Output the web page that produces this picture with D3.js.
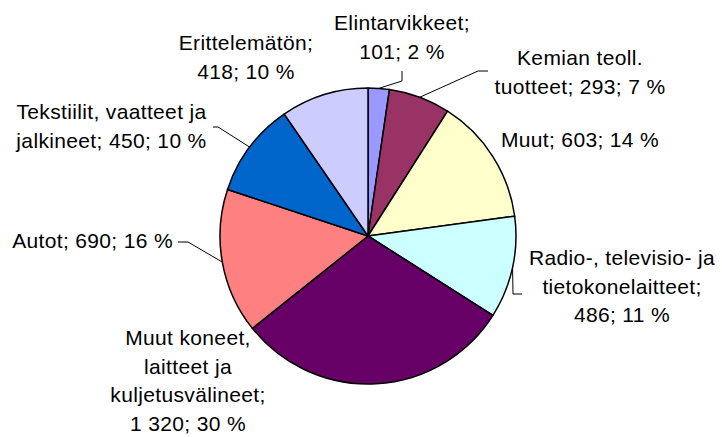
<!DOCTYPE html>
<html>
<head>
<meta charset="utf-8">
<script src="https://cdn.jsdelivr.net/npm/d3@7"></script>
<style>
  body { margin: 0; background: #fff; }
  svg text { font-family: "Liberation Sans", Arial, sans-serif; font-size: 21px; letter-spacing: 0.35px; fill: #000; }
</style>
</head>
<body>
<div id="chart"></div>
<script>
// data, clockwise from 12 o'clock
var categories = [
  "Elintarvikkeet",
  "Kemian teoll. tuotteet",
  "Muut",
  "Radio-, televisio- ja tietokonelaitteet",
  "Muut koneet, laitteet ja kuljetusvälineet",
  "Autot",
  "Tekstiilit, vaatteet ja jalkineet",
  "Erittelemätön"
];
var values = [101, 293, 603, 486, 1320, 690, 450, 418];
var colors = ["#9999ff", "#993366", "#ffffcc", "#ccffff", "#660066", "#ff8080", "#0066cc", "#ccccff"];

// label layout: first baseline, anchor, words per line, leader [elbow, end]
var labelLayout = [
  { x: 402, y: 30, anchor: "middle", lines: [1, 3], leader: [[402, 81], [402, 71]] },
  { x: 580, y: 65, anchor: "middle", lines: [2, 4], leader: [[478, 71], [488, 71]] },
  { x: 580, y: 147, anchor: "middle", lines: [4], leader: null },
  { x: 622, y: 265, anchor: "middle", lines: [3, 1, 3], leader: [[513, 294], [522, 294]] },
  { x: 188, y: 345, anchor: "middle", lines: [2, 2, 1, 3], leader: null },
  { x: 173, y: 248, anchor: "end", lines: [4], leader: [[188, 242], [178, 242]] },
  { x: 111.5, y: 119, anchor: "middle", lines: [3, 4], leader: [[218, 127], [213, 127]] },
  { x: 246, y: 50, anchor: "middle", lines: [1, 3], leader: null }
];

var width = 722, height = 437;
var cx = 368, cy = 236, radius = 148;
var lineHeight = 28.5;

var total = d3.sum(values);
var fmtNum = function (v) {
  // thousands with a (non-breaking) space
  return d3.format(",")(v).replace(/,/g, "\u00a0");
};

var svg = d3.select("#chart").append("svg")
  .attr("width", width)
  .attr("height", height);

var pie = d3.pie().sort(null).value((d) => d);
var arcs = pie(values);

var arc = d3.arc().innerRadius(0).outerRadius(radius);
var edge = d3.arc().innerRadius(radius).outerRadius(radius);

var g = svg.append("g").attr("transform", "translate(" + cx + "," + cy + ")");

g.selectAll("path.slice")
  .data(arcs)
  .enter()
  .append("path")
  .attr("class", "slice")
  .attr("d", arc)
  .attr("fill", (d, i) => colors[i])
  .attr("stroke", "#000")
  .attr("stroke-width", 1.5)
  .attr("stroke-linejoin", "round");

// leader lines
arcs.forEach(function (d, i) {
  var lay = labelLayout[i];
  if (!lay.leader) return;
  var p = edge.centroid(d);
  var pts = [[cx + p[0], cy + p[1]]].concat(lay.leader);
  svg.append("path")
    .attr("d", d3.line()(pts))
    .attr("fill", "none")
    .attr("stroke", "#000")
    .attr("stroke-width", 1);
});

// labels
arcs.forEach(function (d, i) {
  var lay = labelLayout[i];
  var pct = Math.round((values[i] / total) * 100);
  var label = categories[i] + "; " + fmtNum(values[i]) + "; " + pct + " %";
  var words = label.split(" ");
  var text = svg.append("text")
    .attr("text-anchor", lay.anchor);
  var k = 0;
  lay.lines.forEach(function (n, li) {
    text.append("tspan")
      .attr("x", lay.x)
      .attr("y", lay.y + li * lineHeight)
      .text(words.slice(k, k + n).join(" "));
    k += n;
  });
});
</script>
</body>
</html>
